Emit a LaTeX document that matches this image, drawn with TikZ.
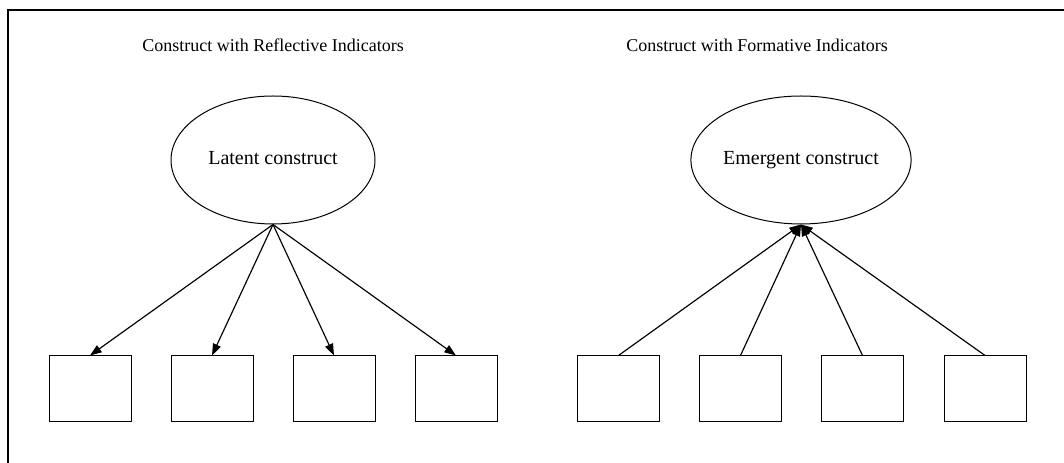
\documentclass[tikz,border=0pt]{standalone}
\usepackage{fontspec}
\setmainfont{Liberation Serif}
\usetikzlibrary{arrows.meta,shapes.geometric}
\tikzset{
  indicator/.style={draw, line width=0.6pt, minimum width=49.2pt, minimum height=39.6pt, inner sep=0pt},
  construct/.style={draw, ellipse, line width=0.6pt, minimum width=122.4pt, minimum height=76.8pt, inner sep=0pt,
    text height=1.6ex, text depth=0.3ex, font=\fontsize{12}{14}\selectfont},
  heading/.style={font=\fontsize{10.8}{13}\selectfont, inner sep=0pt},
  link/.style={line width=0.7pt, -{Triangle[length=7pt,width=5pt]}},
}
\begin{document}
\begin{tikzpicture}[x=0.6pt, y=-0.6pt]
\useasboundingbox (0,0) rectangle (1064,463);
% frame
\draw[line width=0.8pt] (8,463) -- (8,10) -- (1064,10);

% headings
\node[heading] (hl) at (273,45) {Construct with Reflective Indicators};
\node[heading] (hr) at (757,45) {Construct with Formative Indicators};

% constructs
\node[construct] (lat) at (273,160) {Latent construct};
\node[construct] (emg) at (801,160) {Emergent construct};

% indicators
\foreach \n/\x in {1/90, 2/212, 3/334, 4/456, 5/618.5, 6/740.5, 7/862.5, 8/985}
  \node[indicator] (b\n) at (\x,389) {};

% reflective: construct to indicators
\foreach \n in {1,...,4}
  \draw[link] (lat.south) -- (b\n.north);

% formative: indicators to construct
\foreach \n in {5,...,8}
  \draw[link] (b\n.north) -- (emg.south);
\end{tikzpicture}
\end{document}
